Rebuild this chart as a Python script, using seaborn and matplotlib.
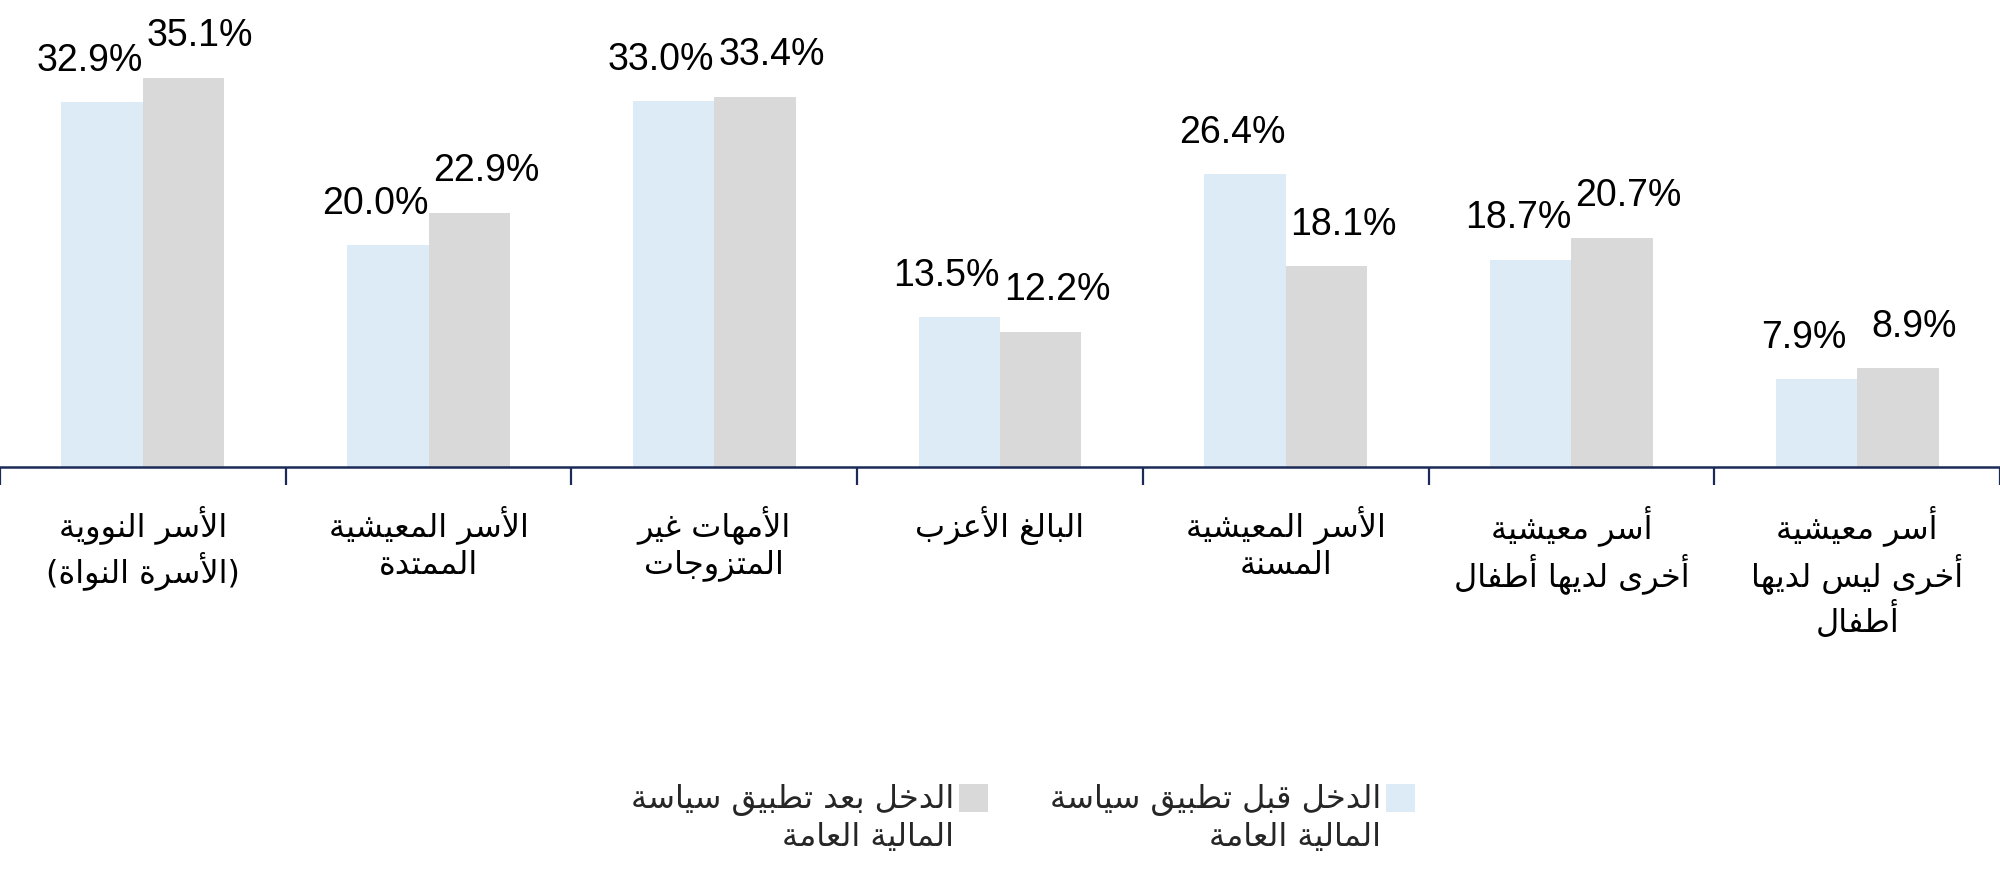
import pandas as pd
import matplotlib
matplotlib.use("Agg")
import matplotlib.pyplot as plt
from matplotlib.patches import Rectangle
import seaborn as sns

# ---- data ----
categories = [
    "الأسر النووية\n(الأسرة النواة)",
    "الأسر المعيشية\nالممتدة",
    "الأمهات غير\nالمتزوجات",
    "البالغ الأعزب",
    "الأسر المعيشية\nالمسنة",
    "أسر معيشية\nأخرى لديها أطفال",
    "أسر معيشية\nأخرى ليس لديها\nأطفال",
]
before_policy = [32.9, 20.0, 33.0, 13.5, 26.4, 18.7, 7.9]
after_policy = [35.1, 22.9, 33.4, 12.2, 18.1, 20.7, 8.9]
series_names = [
    "الدخل قبل تطبيق سياسة\nالمالية العامة",
    "الدخل بعد تطبيق سياسة\nالمالية العامة",
]
colors = ["#DDEBF7", "#D9D9D9"]
navy = "#1B2A57"

# ---- minimal arabic shaping (matplotlib has no bidi / joining) ----
LETTERS = {
    'آ': (0xFE81, 2), 'أ': (0xFE83, 2), 'ؤ': (0xFE85, 2), 'إ': (0xFE87, 2),
    'ئ': (0xFE89, 4), 'ا': (0xFE8D, 2), 'ب': (0xFE8F, 4), 'ة': (0xFE93, 2),
    'ت': (0xFE95, 4), 'ث': (0xFE99, 4), 'ج': (0xFE9D, 4), 'ح': (0xFEA1, 4),
    'خ': (0xFEA5, 4), 'د': (0xFEA9, 2), 'ذ': (0xFEAB, 2), 'ر': (0xFEAD, 2),
    'ز': (0xFEAF, 2), 'س': (0xFEB1, 4), 'ش': (0xFEB5, 4), 'ص': (0xFEB9, 4),
    'ض': (0xFEBD, 4), 'ط': (0xFEC1, 4), 'ظ': (0xFEC5, 4), 'ع': (0xFEC9, 4),
    'غ': (0xFECD, 4), 'ف': (0xFED1, 4), 'ق': (0xFED5, 4), 'ك': (0xFED9, 4),
    'ل': (0xFEDD, 4), 'م': (0xFEE1, 4), 'ن': (0xFEE5, 4), 'ه': (0xFEE9, 4),
    'و': (0xFEED, 2), 'ى': (0xFEEF, 2), 'ي': (0xFEF1, 4),
}
LAM_ALEF = {'آ': 0xFEF5, 'أ': 0xFEF7, 'إ': 0xFEF9, 'ا': 0xFEFB}
MIRROR = {'(': ')', ')': '('}


def shape_line(line):
    units = []
    i = 0
    while i < len(line):
        c = line[i]
        if c == 'ل' and i + 1 < len(line) and line[i + 1] in LAM_ALEF:
            units.append(('LA', line[i + 1]))
            i += 2
        else:
            units.append(c)
            i += 1

    def is_ar(u):
        return isinstance(u, tuple) or u in LETTERS

    def joins_left(u):
        return isinstance(u, str) and u in LETTERS and LETTERS[u][1] == 4

    out = []
    for k, u in enumerate(units):
        prev = units[k - 1] if k > 0 else None
        nxt = units[k + 1] if k + 1 < len(units) else None
        jp = prev is not None and joins_left(prev)
        if isinstance(u, tuple):
            out.append(chr(LAM_ALEF[u[1]] + (1 if jp else 0)))
            continue
        if u not in LETTERS:
            out.append(u)
            continue
        start, n = LETTERS[u]
        jn = n == 4 and nxt is not None and is_ar(nxt)
        if jp and jn:
            form = 3
        elif jp:
            form = 1
        elif jn:
            form = 2
        else:
            form = 0
        out.append(chr(start + form))
    # visual order: right to left
    return ''.join(MIRROR.get(c, c) for c in reversed(out))


def ar(text):
    return '\n'.join(shape_line(l) for l in text.split('\n'))


# ---- plot ----
sns.set_style("white")
plt.rcParams['font.family'] = ['DejaVu Sans']

df = pd.DataFrame({
    'cat': categories * 2,
    'value': before_policy + after_policy,
    'series': [series_names[0]] * len(categories) + [series_names[1]] * len(categories),
})

fig = plt.figure(figsize=(20, 8.89), dpi=100)
ax = fig.add_axes([0, 0.475, 1, 0.525])

sns.barplot(data=df, x='cat', y='value', hue='series', hue_order=series_names,
            palette=colors, saturation=1, width=0.57, ax=ax, legend=False,
            errorbar=None, linewidth=0)

ax.set_xlim(-0.5, len(categories) - 0.5)
ax.set_ylim(0, 42.15)
ax.set_ylabel('')
ax.set_xlabel('')
ax.set_yticks([])
for s in ['top', 'left', 'right']:
    ax.spines[s].set_visible(False)
ax.spines['bottom'].set_color(navy)
ax.spines['bottom'].set_linewidth(1.8)

ax.set_xticks(range(len(categories)))
ax.set_xticklabels([ar(c) for c in categories], fontsize=23, color='black',
                   linespacing=1.22)
ax.tick_params(axis='x', which='major', bottom=False, length=0, pad=28)
ax.set_xticks([i - 0.5 for i in range(len(categories) + 1)], minor=True)
ax.tick_params(axis='x', which='minor', bottom=True, length=13, width=1.6,
               color=navy, direction='out')

# value labels
shifts = [-9, 12]
for cont, dx in zip(ax.containers, shifts):
    for bar in cont:
        h = bar.get_height()
        ax.annotate(f"{h:.1f}%", (bar.get_x() + bar.get_width() / 2, h),
                    xytext=(dx, 30), textcoords='offset points',
                    ha='center', va='center', fontsize=27,
                    family='Liberation Sans', color='black',
                    annotation_clip=False)

# legend (right to left: first series on the right)
W, H = 2000, 889
legend_items = [(series_names[0], colors[0], 1386), (series_names[1], colors[1], 959)]
for name, col, x0 in legend_items:
    fig.patches.append(Rectangle((x0 / W, 1 - 812 / H), 29 / W, 28 / H,
                                 transform=fig.transFigure, facecolor=col,
                                 edgecolor='none'))
    fig.text((x0 - 5) / W, 1 - 783 / H, ar(name), ha='right', va='top',
             multialignment='right', fontsize=23, linespacing=1.28)

fig.savefig('out.png', dpi=100)
